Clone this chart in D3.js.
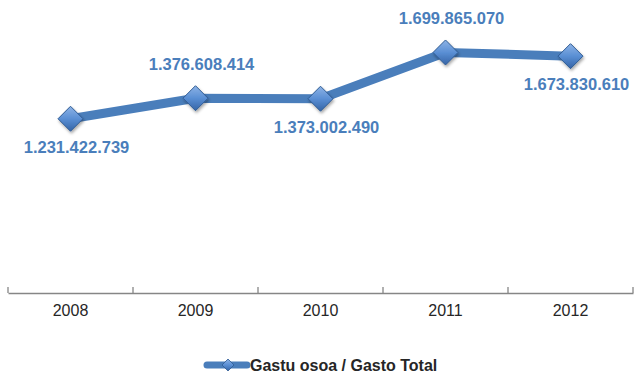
<!DOCTYPE html>
<html>
<head>
<meta charset="utf-8">
<script src="https://cdn.jsdelivr.net/npm/d3@7"></script>
<style>
  body { margin: 0; background: #fff; }
  svg { display: block; }
</style>
</head>
<body>
<div id="chart"></div>
<script>
// chart values
const years = ["2008", "2009", "2010", "2011", "2012"]
const values = [1231422739, 1376608414, 1373002490, 1699865070, 1673830610]
const labelPos = ["below", "above", "below", "above", "below"]
const seriesName = "Gastu osoa / Gasto Total"

const width = 637, height = 372
const blue = "#4a7ebb"

const svg = d3.select("#chart").append("svg")
    .attr("width", width)
    .attr("height", height)

// gradient + shadow for the diamond markers
const defs = svg.append("defs")
const grad = defs.append("linearGradient")
    .attr("id", "markerGrad")
    .attr("x1", 0).attr("y1", 0).attr("x2", 0).attr("y2", 1)
grad.append("stop").attr("offset", "0%").attr("stop-color", "#8db3e6")
grad.append("stop").attr("offset", "50%").attr("stop-color", "#5a8fd4")
grad.append("stop").attr("offset", "100%").attr("stop-color", "#3564a6")

const shadow = defs.append("filter").attr("id", "shadow")
    .attr("x", "-50%").attr("y", "-50%").attr("width", "200%").attr("height", "200%")
shadow.append("feDropShadow")
    .attr("dx", 1).attr("dy", 2).attr("stdDeviation", 1.5)
    .attr("flood-color", "#000").attr("flood-opacity", 0.35)

let x = d3.scaleBand()
    .domain(years)
    .range([8, 633])

let y = d3.scaleLinear()
    .domain([0, 2000000000])
    .range([293, 10])

// axis
let xAxis = svg.append("g")
    .attr("transform", "translate(0,293)")
    .call(d3.axisBottom(x).tickSize(0).tickPadding(12))
xAxis.select(".domain").attr("stroke", "#868686").attr("stroke-width", 1.3)
xAxis.selectAll("text")
    .attr("font-family", "Liberation Sans, Arial, sans-serif")
    .attr("font-size", "16px")
    .attr("fill", "#262626")

// tick marks between categories
const edges = years.map(d => x(d)).concat([x.range()[1]])
svg.append("g").selectAll("line")
    .data(edges)
    .join("line")
    .attr("x1", d => d).attr("x2", d => d)
    .attr("y1", 287).attr("y2", 293)
    .attr("stroke", "#868686").attr("stroke-width", 1.3)

const cx = d => x(d) + x.bandwidth() / 2

// line
const line = d3.line()
    .x((d, i) => cx(years[i]))
    .y(d => y(d))

svg.append("path")
    .datum(values)
    .attr("d", line)
    .attr("fill", "none")
    .attr("stroke", blue)
    .attr("stroke-width", 9)
    .attr("stroke-linejoin", "round")

const diamond = (px, py, r) => `M${px},${py - r}L${px + r},${py}L${px},${py + r}L${px - r},${py}Z`

svg.append("g").selectAll("path")
    .data(values)
    .join("path")
    .attr("d", (d, i) => diamond(cx(years[i]), y(d), 12.5))
    .attr("fill", "url(#markerGrad)")
    .attr("stroke", "#2f5b93")
    .attr("stroke-width", 1)
    .attr("filter", "url(#shadow)")

// data labels
const fmt = v => d3.format(",")(v).replace(/,/g, ".")
svg.append("g").selectAll("text")
    .data(values)
    .join("text")
    .attr("x", (d, i) => cx(years[i]) + 6)
    .attr("y", (d, i) => labelPos[i] == "above" ? y(d) - 28 : y(d) + 34)
    .attr("text-anchor", "middle")
    .attr("font-family", "Liberation Sans, Arial, sans-serif")
    .attr("font-weight", "bold")
    .attr("font-size", "16.5px")
    .attr("fill", blue)
    .text(d => fmt(d))

// legend
const legend = svg.append("g").attr("transform", "translate(207,365)")
legend.append("line")
    .attr("x1", 0).attr("x2", 40)
    .attr("y1", 0).attr("y2", 0)
    .attr("stroke", blue).attr("stroke-width", 7)
    .attr("stroke-linecap", "round")
legend.append("path")
    .attr("d", diamond(21, 0, 6))
    .attr("fill", "url(#markerGrad)")
    .attr("stroke", "#2f5b93")
    .attr("stroke-width", 0.8)
legend.append("text")
    .attr("x", 43).attr("y", 5.5)
    .attr("font-family", "Liberation Sans, Arial, sans-serif")
    .attr("font-weight", "bold")
    .attr("font-size", "16px")
    .attr("fill", "#262626")
    .text(seriesName)
</script>
</body>
</html>
